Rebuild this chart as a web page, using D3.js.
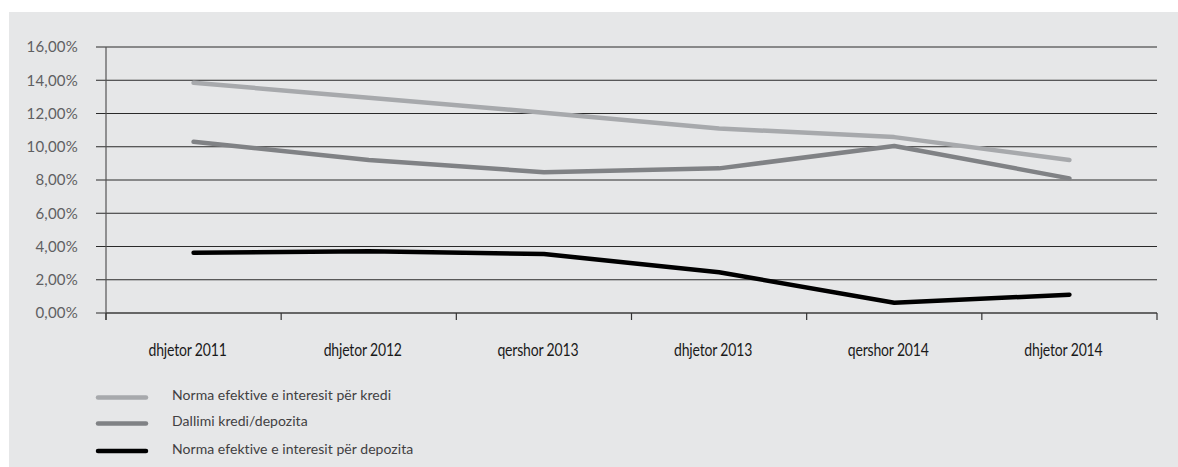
<!DOCTYPE html>
<html>
<head>
<meta charset="utf-8">
<script src="https://cdn.jsdelivr.net/npm/d3@7"></script>
<style>
  html, body { margin: 0; padding: 0; background: #ffffff; }
  svg { display: block; }
</style>
</head>
<body>
<svg id="chart" width="1178" height="467"></svg>
<script>
// Periods on the horizontal axis
const categories = ["dhjetor 2011", "dhjetor 2012", "qershor 2013", "dhjetor 2013", "qershor 2014", "dhjetor 2014"];

// Series values, in percent
const kredi = [13.85, 12.95, 12.05, 11.1, 10.58, 9.2];
const dallimi = [10.3, 9.2, 8.47, 8.7, 10.05, 8.1];
const depozita = [3.62, 3.72, 3.55, 2.45, 0.62, 1.1];

const seriesNames = [
  "Norma efektive e interesit për kredi",
  "Dallimi kredi/depozita",
  "Norma efektive e interesit për depozita"
];

// Y axis tick values
const yTicks = [0, 2, 4, 6, 8, 10, 12, 14, 16];

const series = [
  { name: seriesNames[0], values: kredi, color: "#a7a9ac" },
  { name: seriesNames[1], values: dallimi, color: "#808285" },
  { name: seriesNames[2], values: depozita, color: "#000000" }
];

const svg = d3.select("#chart");

// Panel background
svg.append("rect")
  .attr("x", 9).attr("y", 12)
  .attr("width", 1178 - 9).attr("height", 467 - 12)
  .attr("fill", "#e6e7e8");

const plotLeft = 106, plotRight = 1157, plotTop = 47, plotBottom = 313;

const x = d3.scaleBand().domain(categories).range([plotLeft, plotRight]).padding(0);
const y = d3.scaleLinear().domain([0, 16]).range([plotBottom, plotTop]);

const fmt = v => v.toFixed(2).replace(".", ",") + "%";

// Horizontal grid lines (extend left of the axis as ticks)
svg.append("g")
  .selectAll("line")
  .data(yTicks)
  .join("line")
  .attr("x1", 96).attr("x2", plotRight)
  .attr("y1", d => y(d)).attr("y2", d => y(d))
  .attr("stroke", "#2a2a2a")
  .attr("stroke-width", 1);

// Y tick labels
svg.append("g")
  .selectAll("text")
  .data(yTicks)
  .join("text")
  .attr("x", 78)
  .attr("y", d => y(d))
  .attr("dy", "0.35em")
  .attr("text-anchor", "end")
  .attr("font-family", "Lato, 'Noto Sans', sans-serif")
  .attr("font-size", 15)
  .attr("letter-spacing", "0.2")
  .attr("fill", "#5f6062")
  .text(fmt);

// Vertical axis line
svg.append("line")
  .attr("x1", plotLeft).attr("x2", plotLeft)
  .attr("y1", plotTop).attr("y2", plotBottom + 7)
  .attr("stroke", "#555555")
  .attr("stroke-width", 1.2);

// X axis with ticks at category boundaries
const xAxis = svg.append("g")
  .attr("transform", `translate(0,${plotBottom})`);
xAxis.append("line")
  .attr("x1", plotLeft).attr("x2", plotRight)
  .attr("y1", 0).attr("y2", 0)
  .attr("stroke", "#444444").attr("stroke-width", 1.2);
const boundaries = categories.map(c => x(c)).concat([x(categories[categories.length - 1]) + x.bandwidth()]);
xAxis.selectAll("line.tick")
  .data(boundaries)
  .join("line")
  .attr("class", "tick")
  .attr("x1", d => d).attr("x2", d => d)
  .attr("y1", 0).attr("y2", 7)
  .attr("stroke", "#333333").attr("stroke-width", 1.2);
// Condensed category labels
xAxis.selectAll("text")
  .data(categories)
  .join("text")
  .attr("transform", d => `translate(${x(d) + x.bandwidth() / 2 - 6},43) scale(0.8,1)`)
  .attr("text-anchor", "middle")
  .attr("font-family", "Lato, 'Noto Sans', sans-serif")
  .attr("font-size", 17.5)
  .attr("letter-spacing", "-0.2")
  .attr("fill", "#1a1a1a")
  .text(d => d);

// Series lines
const line = d3.line()
  .x((d, i) => x(categories[i]) + x.bandwidth() / 2)
  .y(d => y(d));

svg.append("g")
  .selectAll("path")
  .data(series)
  .join("path")
  .attr("d", d => line(d.values))
  .attr("fill", "none")
  .attr("stroke", d => d.color)
  .attr("stroke-width", 4.5)
  .attr("stroke-linecap", "round")
  .attr("stroke-linejoin", "round");

// Legend
const legend = svg.append("g");
const legendY = [397.5, 423.5, 451];
series.forEach((s, i) => {
  legend.append("line")
    .attr("x1", 98).attr("x2", 146)
    .attr("y1", legendY[i]).attr("y2", legendY[i])
    .attr("stroke", s.color)
    .attr("stroke-width", 4.5)
    .attr("stroke-linecap", "round");
  legend.append("text")
    .attr("x", 172)
    .attr("y", legendY[i] - 2)
    .attr("dy", "0.35em")
    .attr("font-family", "Lato, 'Noto Sans', sans-serif")
    .attr("font-size", 14)
    .attr("letter-spacing", "0.05")
    .attr("fill", "#414042")
    .text(s.name);
});
</script>
</body>
</html>
